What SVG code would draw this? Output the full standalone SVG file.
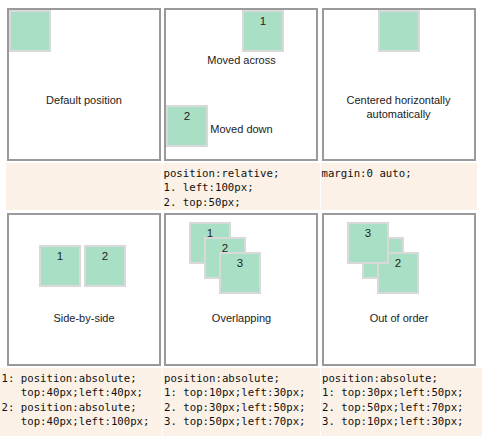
<svg xmlns="http://www.w3.org/2000/svg" width="482" height="436" viewBox="0 0 482 436">
<style>
.band{fill:#fbf1e6}
.panel{fill:#fff;stroke:#9a9a9a;stroke-width:2}
.box{fill:#a9dfc4;stroke:#d9d9d9;stroke-width:2}
.lbl{font-family:"Liberation Sans",Arial,sans-serif;font-size:11px;fill:#222;text-anchor:middle}
.num{font-family:"Liberation Sans",Arial,sans-serif;font-size:11.5px;fill:#222;text-anchor:middle}
.code{font-family:"DejaVu Sans Mono","Liberation Mono",monospace;font-size:10.7px;fill:#111;white-space:pre}
</style>
<rect width="482" height="436" fill="#fff"/>
<g id="bands">
<rect class="band" x="6" y="163" width="155.5" height="47"/>
<rect class="band" x="162.5" y="163" width="157.5" height="47"/>
<rect class="band" x="321" y="163" width="156" height="47"/>
<rect class="band" x="0" y="368" width="161.5" height="68"/>
<rect class="band" x="162.5" y="368" width="157.5" height="68"/>
<rect class="band" x="321" y="368" width="161" height="68"/>
</g>
<g id="panel-default">
<rect class="panel" x="8" y="9" width="152" height="151"/>
<rect class="box" x="10" y="11" width="40" height="40"/>
<text class="lbl" x="84" y="104">Default position</text>
</g>
<g id="panel-relative">
<rect class="panel" x="165" y="9" width="152" height="151"/>
<rect class="box" x="243" y="11" width="40" height="40"/>
<text class="num" x="263" y="24.5">1</text>
<rect class="box" x="167" y="106" width="40" height="40"/>
<text class="num" x="187" y="119.5">2</text>
<text class="lbl" x="241.5" y="64">Moved across</text>
<text class="lbl" x="241.5" y="133">Moved down</text>
</g>
<g id="panel-centered">
<rect class="panel" x="323" y="9" width="152" height="151"/>
<rect class="box" x="379" y="11" width="40" height="40"/>
<text class="lbl" x="398.5" y="104">Centered horizontally</text>
<text class="lbl" x="398.5" y="118">automatically</text>
</g>
<g id="code-row1">
<text class="code" x="163.5" y="176.5">position:relative;</text>
<text class="code" x="163.5" y="191">1. left:100px;</text>
<text class="code" x="163.5" y="205.5">2. top:50px;</text>
<text class="code" x="321.5" y="176.5">margin:0 auto;</text>
</g>
<g id="panel-side">
<rect class="panel" x="8" y="214" width="152" height="151"/>
<rect class="box" x="40" y="246" width="40" height="40"/>
<text class="num" x="60" y="259.5">1</text>
<rect class="box" x="85" y="246" width="40" height="40"/>
<text class="num" x="105" y="259.5">2</text>
<text class="lbl" x="84" y="322">Side-by-side</text>
</g>
<g id="panel-overlap">
<rect class="panel" x="165" y="214" width="152" height="151"/>
<rect class="box" x="190" y="223" width="40" height="40"/>
<text class="num" x="210" y="237">1</text>
<rect class="box" x="205" y="238" width="40" height="40"/>
<text class="num" x="225" y="252">2</text>
<rect class="box" x="220" y="253" width="40" height="40"/>
<text class="num" x="240" y="267">3</text>
<text class="lbl" x="241.5" y="322">Overlapping</text>
</g>
<g id="panel-order">
<rect class="panel" x="323" y="214" width="152" height="151"/>
<rect class="box" x="363" y="238" width="40" height="40"/>
<rect class="box" x="378" y="253" width="40" height="40"/>
<text class="num" x="398" y="267">2</text>
<rect class="box" x="348" y="223" width="40" height="40"/>
<text class="num" x="368" y="237">3</text>
<text class="lbl" x="399" y="322">Out of order</text>
</g>
<g id="code-row2">
<text class="code" x="1.5" y="381.5">1: position:absolute;</text>
<text class="code" x="1.5" y="396">   top:40px;left:40px;</text>
<text class="code" x="1.5" y="410.5">2: position:absolute;</text>
<text class="code" x="1.5" y="425">   top:40px;left:100px;</text>
<text class="code" x="164" y="381.5">position:absolute;</text>
<text class="code" x="164" y="396">1: top:10px;left:30px;</text>
<text class="code" x="164" y="410.5">2. top:30px;left:50px;</text>
<text class="code" x="164" y="425">3. top:50px;left:70px;</text>
<text class="code" x="322" y="381.5">position:absolute;</text>
<text class="code" x="322" y="396">1: top:30px;left:50px;</text>
<text class="code" x="322" y="410.5">2. top:50px;left:70px;</text>
<text class="code" x="322" y="425">3. top:10px;left:30px;</text>
</g>
</svg>
